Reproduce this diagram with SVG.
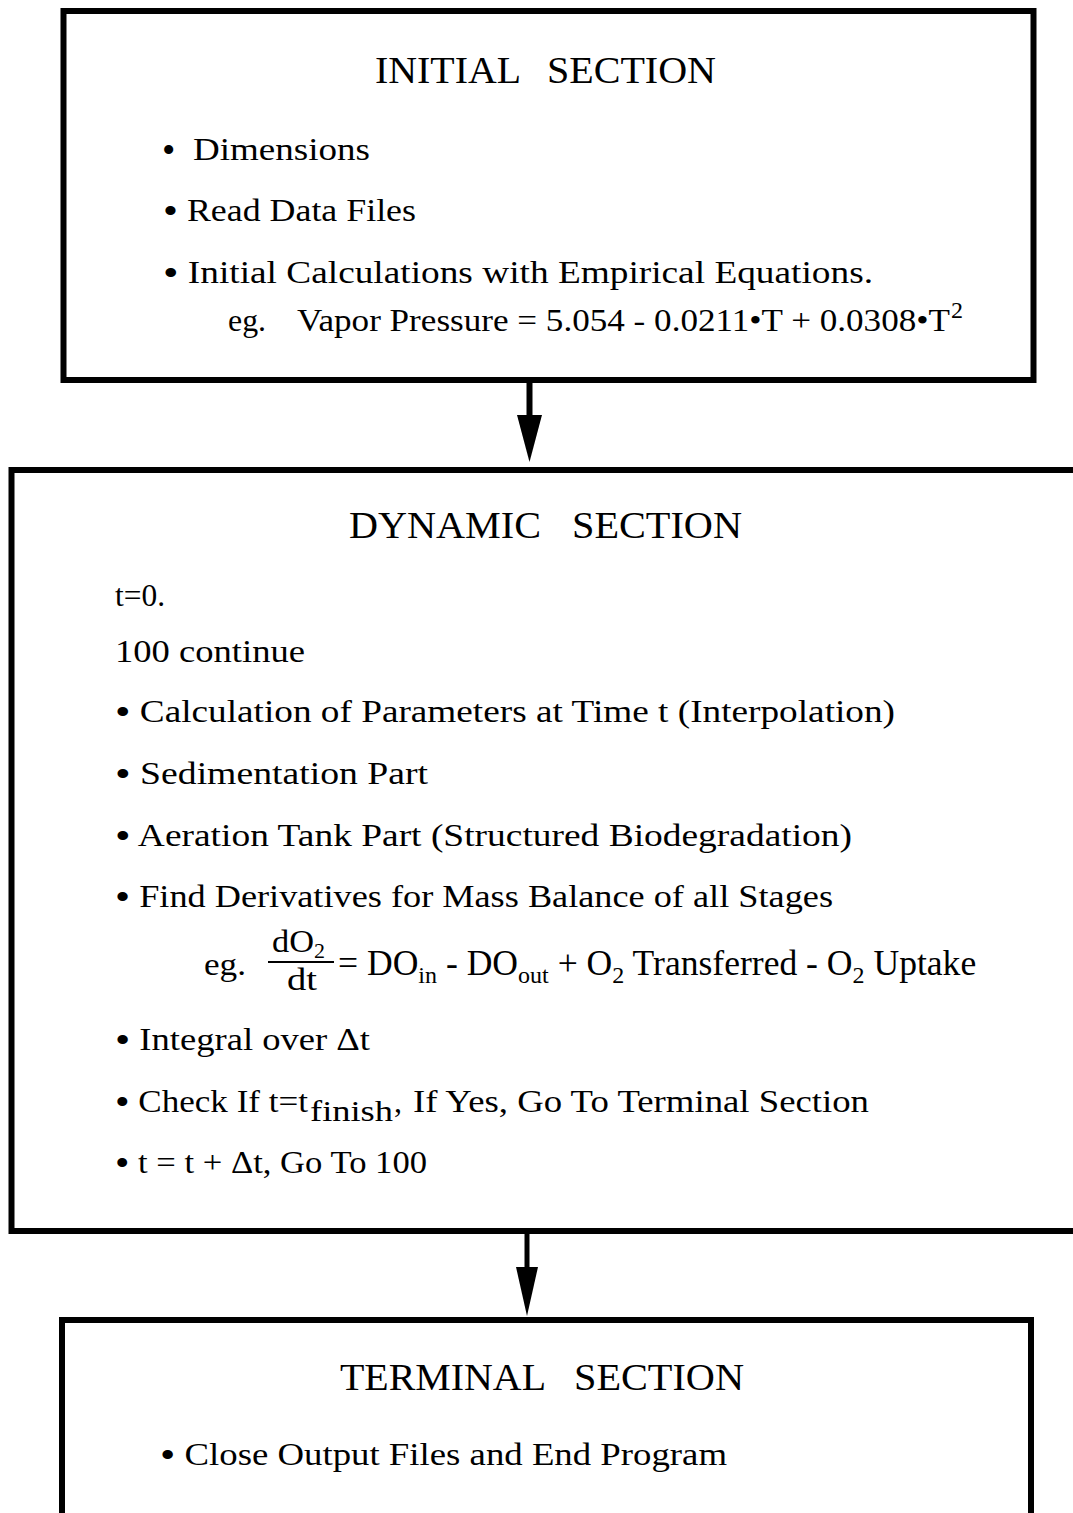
<svg xmlns="http://www.w3.org/2000/svg" width="1073" height="1513" viewBox="0 0 1073 1513">
<style>
.box{fill:none;stroke:#000;stroke-width:6}
text{font-family:"Liberation Serif","Times New Roman",serif;fill:#000}
.t{font-size:38px}
.b{font-size:32px}
.s{font-size:22px}
.bl{font-size:38px}
</style>
<rect width="1073" height="1513" fill="#fff"/>
<g id="initial">
<rect class="box" x="63.5" y="11" width="970" height="369"/>
<text class="t" x="375" y="83" textLength="146" lengthAdjust="spacingAndGlyphs">INITIAL</text>
<text class="t" x="547" y="83" textLength="169" lengthAdjust="spacingAndGlyphs">SECTION</text>
<text class="bl" x="162" y="163">•</text>
<text class="b" x="193" y="160" textLength="177" lengthAdjust="spacingAndGlyphs">Dimensions</text>
<text class="b" x="163" y="221" textLength="253" lengthAdjust="spacingAndGlyphs"><tspan class="bl" dy="3">•</tspan><tspan dy="-3"> Read Data Files</tspan></text>
<text class="b" x="163" y="283" textLength="710" lengthAdjust="spacingAndGlyphs"><tspan class="bl" dy="3">•</tspan><tspan dy="-3"> Initial Calculations with Empirical Equations.</tspan></text>
<text class="b" x="228" y="331" textLength="38" lengthAdjust="spacingAndGlyphs">eg.</text>
<text class="b" x="297" y="331" textLength="653" lengthAdjust="spacingAndGlyphs">Vapor Pressure = 5.054 - 0.0211•T + 0.0308•T</text>
<text x="951" y="318" font-size="24">2</text>
</g>
<g id="dynamic">
<rect class="box" x="11.5" y="470" width="1080" height="761"/>
<text class="t" x="349" y="538" textLength="192" lengthAdjust="spacingAndGlyphs">DYNAMIC</text>
<text class="t" x="572" y="538" textLength="170" lengthAdjust="spacingAndGlyphs">SECTION</text>
<text class="b" x="115" y="606" textLength="50" lengthAdjust="spacingAndGlyphs">t=0.</text>
<text class="b" x="115" y="662" textLength="190" lengthAdjust="spacingAndGlyphs">100 continue</text>
<text class="b" x="115" y="722" textLength="780" lengthAdjust="spacingAndGlyphs"><tspan class="bl" dy="3">•</tspan><tspan dy="-3"> Calculation of Parameters at Time t (Interpolation)</tspan></text>
<text class="b" x="115" y="784" textLength="313" lengthAdjust="spacingAndGlyphs"><tspan class="bl" dy="3">•</tspan><tspan dy="-3"> Sedimentation Part</tspan></text>
<text class="b" x="115" y="846" textLength="737" lengthAdjust="spacingAndGlyphs"><tspan class="bl" dy="3">•</tspan><tspan dy="-3"> Aeration Tank Part (Structured Biodegradation)</tspan></text>
<text class="b" x="115" y="907" textLength="718" lengthAdjust="spacingAndGlyphs"><tspan class="bl" dy="3">•</tspan><tspan dy="-3"> Find Derivatives for Mass Balance of all Stages</tspan></text>
<text class="b" x="204" y="975" textLength="42" lengthAdjust="spacingAndGlyphs">eg.</text>
<text class="b" x="272" y="952" textLength="42" lengthAdjust="spacingAndGlyphs">dO</text>
<text class="s" x="314" y="958">2</text>
<line x1="268" y1="962" x2="334" y2="962" stroke="#000" stroke-width="2"/>
<text class="b" x="287" y="990" textLength="30" lengthAdjust="spacingAndGlyphs">dt</text>
<text x="338" y="975" font-size="35.6">= DO<tspan dy="8" font-size="24">in</tspan><tspan dy="-8"> - DO</tspan><tspan dy="8" font-size="24">out</tspan><tspan dy="-8"> + O</tspan><tspan dy="8" font-size="24">2</tspan><tspan dy="-8"> Transferred - O</tspan><tspan dy="8" font-size="24">2</tspan><tspan dy="-8"> Uptake</tspan></text>
<text class="b" x="115" y="1050" textLength="255" lengthAdjust="spacingAndGlyphs"><tspan class="bl" dy="3">•</tspan><tspan dy="-3"> Integral over Δt</tspan></text>
<text class="b" x="115" y="1112" textLength="193" lengthAdjust="spacingAndGlyphs"><tspan class="bl" dy="3">•</tspan><tspan dy="-3"> Check If t=t</tspan></text>
<text x="310" y="1121" font-size="29" textLength="83" lengthAdjust="spacingAndGlyphs">finish</text>
<text class="b" x="394" y="1112">,</text>
<text class="b" x="413" y="1112" textLength="456" lengthAdjust="spacingAndGlyphs">If Yes, Go To Terminal Section</text>
<text class="b" x="115" y="1173" textLength="312" lengthAdjust="spacingAndGlyphs"><tspan class="bl" dy="3">•</tspan><tspan dy="-3"> t = t + Δt, Go To 100</tspan></text>
</g>
<g id="terminal">
<rect class="box" x="62" y="1320" width="969" height="220"/>
<text class="t" x="340" y="1390" textLength="206" lengthAdjust="spacingAndGlyphs">TERMINAL</text>
<text class="t" x="574" y="1390" textLength="170" lengthAdjust="spacingAndGlyphs">SECTION</text>
<text class="b" x="160" y="1465" textLength="567" lengthAdjust="spacingAndGlyphs"><tspan class="bl" dy="3">•</tspan><tspan dy="-3"> Close Output Files and End Program</tspan></text>
</g>
<g id="connectors">
<line x1="529.5" y1="383" x2="529.5" y2="418" stroke="#000" stroke-width="6"/>
<polygon points="517,415 542,415 529.5,462" fill="#000"/>
<line x1="527" y1="1234" x2="527" y2="1270" stroke="#000" stroke-width="5"/>
<polygon points="516,1267 538,1267 527,1316" fill="#000"/>
</g>
</svg>
